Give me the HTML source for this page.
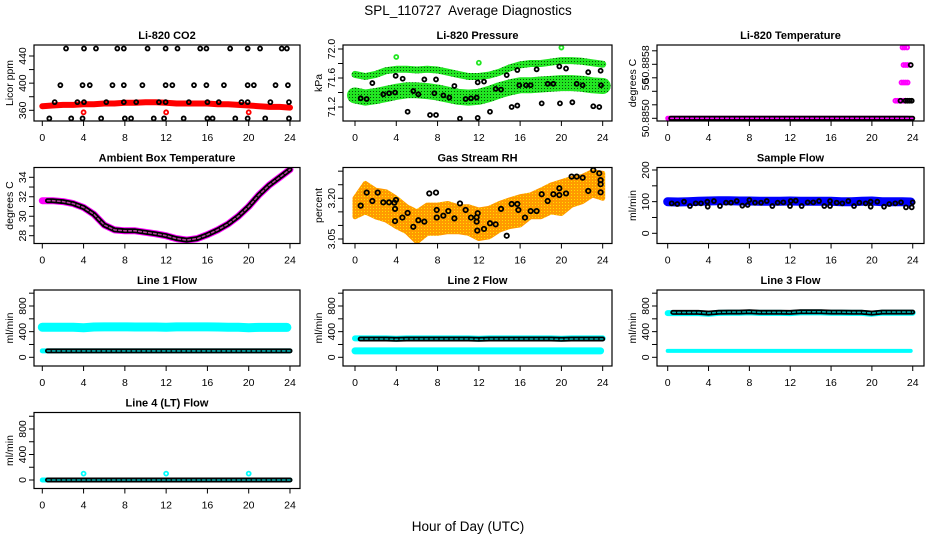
<!DOCTYPE html>
<html><head><meta charset="utf-8"><title>SPL_110727 Average Diagnostics</title>
<style>
html,body{margin:0;padding:0;background:#fff;}
svg{display:block;font-family:"Liberation Sans",Arial,sans-serif;}
</style></head>
<body>
<svg id="chart" width="936" height="540" viewBox="0 0 936 540" xmlns="http://www.w3.org/2000/svg">
<defs>
<pattern id="rhpat" width="3" height="3" patternUnits="userSpaceOnUse"><rect width="3" height="3" fill="#ff9a00"/><rect x="1" y="1" width="1" height="1" fill="#ffe000"/></pattern>
<pattern id="prpat" width="3" height="3" patternUnits="userSpaceOnUse"><rect width="3" height="3" fill="#22e622"/><rect x="1" y="1" width="1" height="1" fill="#0a500a"/></pattern>
</defs>
<text x="468" y="15" text-anchor="middle" font-size="13.5">SPL_110727&#160; Average Diagnostics</text>
<text x="468" y="531" text-anchor="middle" font-size="13.5">Hour of Day (UTC)</text>
</svg>
<script>
// ---------------- data ----------------
const HOURS=[0,1,2,3,4,5,6,7,8,9,10,11,12,13,14,15,16,17,18,19,20,21,22,23,24];
const XTICKS=[0,4,8,12,16,20,24];

// Li-820 CO2
const co2Band=[366,367,368,368,369,369,370,370,371,371,372,372,371,370,370,370,370,369,369,368,367,366,365,365,364];
const co2BlackT=[2.3,4.04,5.2,7.27,7.9,10.2,11.95,13.1,15.3,15.9,18.2,19.9,21.1,23.2,23.7,
 1.75,3.9,4.6,6.8,7.9,9.7,11.95,12.6,14.7,15.9,17.6,19.9,20.5,22.6,23.8,
 1.2,3.4,4.04,6.2,7.9,9.1,11.3,11.95,14.2,16,17.1,19.3,19.9,22.1,23.9,
 0.68,2.8,3.9,5.7,8.0,8.6,10.8,11.8,13.7,16,16.5,18.7,19.9,21.6,23.9];
const co2BlackV=[451,451,451,451,451,451,451,451,451,451,451,451,451,451,451,
 397,397,397,397,397,397,397,397,397,397,397,397,397,397,397,
 372,372,372,372,372,372,372,372,372,372,372,372,372,372,372,
 348,348,348,348,348,348,348,348,348,348,348,348,348,348,348];
const co2RedT=[4,12,20];
const co2RedV=[357,357,357];

// Li-820 Pressure
const presUpper=[71.65,71.62,71.65,71.70,71.72,71.72,71.71,71.72,71.71,71.68,71.65,71.62,71.62,71.64,71.68,71.74,71.78,71.80,71.80,71.82,71.84,71.84,71.83,71.81,71.79];
const presLower=[71.36,71.33,71.35,71.38,71.41,71.43,71.43,71.42,71.40,71.37,71.34,71.33,71.34,71.38,71.43,71.47,71.50,71.50,71.51,71.52,71.53,71.53,71.52,71.50,71.49];
const presBlackT=[0.55,1.13,1.68,2.74,3.3,3.88,3.94,4.62,5.1,5.65,6.14,6.72,7.27,7.69,7.85,7.85,8.56,9.14,9.63,10.17,10.72,11.24,11.79,11.89,11.89,12.5,13.08,13.63,14.15,14.7,15.18,15.73,15.73,15.92,16.57,17.02,17.6,18.09,18.67,19.22,19.8,19.86,20.45,21.06,21.48,22.06,22.6,23.09,23.67,23.8,23.84];
const presBlackV=[71.32,71.31,71.53,71.375,71.39,71.40,71.63,71.59,71.135,71.42,71.375,71.58,71.09,71.39,71.58,71.09,71.36,71.33,71.49,71.04,71.31,71.32,71.33,71.05,71.54,71.55,71.135,71.45,71.44,71.64,71.20,71.22,71.71,71.50,71.50,71.50,71.72,71.25,71.52,71.52,71.76,71.25,71.73,71.265,71.52,71.50,71.68,71.21,71.20,71.70,71.50];
const presGreenT=[4.0,12.0,20.0];
const presGreenV=[71.89,71.81,72.02];

// Li-820 Temperature
const tempBase=[50.8850,50.8850,50.8850,50.8850,50.8850,50.8850,50.8850,50.8850,50.8850,50.8850,50.8850,50.8850,50.8850,50.8850,50.8850,50.8850,50.8850,50.8850,50.8850,50.8850,50.8850,50.8850,50.8850,50.8850,50.8850];
const tempMagT=[23.0,23.2,23.45,23.1,23.3,23.5,22.9,23.1,23.3,23.5,22.3,22.5,22.7,22.9,23.1,23.3];
const tempMagV=[50.88605,50.88605,50.88605,50.88579,50.88579,50.88579,50.88553,50.88553,50.88553,50.88553,50.88526,50.88526,50.88526,50.88526,50.88526,50.88526];
const tempBlackT=[23.8,22.8,23.3,23.5,23.7,23.9];
const tempBlackV=[50.88579,50.88526,50.88526,50.88526,50.88526,50.88526];

// Ambient box temperature
const ambTemp=[31.6,31.6,31.5,31.3,30.9,30.2,29.1,28.6,28.5,28.5,28.35,28.2,28.0,27.7,27.55,27.7,28.1,28.6,29.2,30.0,31.0,32.2,33.2,34.0,34.8];

// Gas stream RH
const rhHigh=[3.200,3.255,3.230,3.224,3.200,3.169,3.150,3.175,3.175,3.181,3.169,3.169,3.157,3.163,3.181,3.194,3.206,3.212,3.230,3.249,3.261,3.273,3.280,3.298,3.292];
const rhLow=[3.132,3.150,3.132,3.120,3.096,3.077,3.040,3.071,3.071,3.077,3.077,3.071,3.052,3.058,3.083,3.096,3.102,3.132,3.132,3.150,3.144,3.175,3.187,3.212,3.200];
const rhBlackT=[0.55,1.13,1.68,2.2,2.74,3.3,3.81,3.97,3.88,3.88,4.59,5.1,5.65,6.14,6.72,7.2,7.85,7.92,7.92,8.56,9.04,9.63,10.17,10.72,11.24,11.79,11.89,11.79,11.85,12.5,13.08,13.63,14.15,14.7,15.18,15.73,15.83,16.47,17.02,17.6,18.09,18.67,19.22,19.8,19.8,20.45,20.99,21.48,22.06,22.6,23.09,23.67,23.8,23.8,23.8];
const rhBlackV=[3.173,3.221,3.190,3.221,3.185,3.185,3.184,3.194,3.161,3.116,3.129,3.146,3.095,3.119,3.114,3.218,3.221,3.157,3.129,3.136,3.153,3.126,3.181,3.157,3.129,3.130,3.145,3.114,3.081,3.087,3.108,3.104,3.161,3.062,3.179,3.179,3.157,3.129,3.153,3.153,3.215,3.190,3.215,3.237,3.212,3.218,3.280,3.280,3.276,3.227,3.304,3.292,3.267,3.252,3.222];

// Sample flow
const sampleBand=[100,99,100,101,102,103,103,102,102,101,101,101,102,101,101,101,101,100,100,101,102,100,100,100,99];
const sampleBlackT=[0.39,0.94,1.6,2.18,2.74,3.26,3.88,3.92,4.53,5.12,5.71,6.2,6.76,7.31,7.83,8.0,8.55,9.14,9.7,10.25,10.77,11.33,11.98,12.05,12.54,13.12,13.71,14.26,14.82,15.34,15.9,15.9,16.55,17.1,17.69,18.25,18.77,19.39,19.88,19.88,20.53,21.19,21.7,22.29,22.85,23.34,23.9,23.99];
const sampleBlackV=[94.6,92.5,99.9,86.2,94.6,94.6,99.9,84.1,102,86.2,96.7,96.7,102,87.3,89.4,105.2,96.7,96.7,102,86.2,96.7,97.8,86.2,102,103,86.2,97.8,97.8,102,86.2,86.2,102,96.7,94.6,102,86.2,96.7,94.6,84.1,99.9,99.9,84.1,92.5,94.6,97.8,82,82,97.8];

// Line flows
const line1High=[470,468,468,468,462,472,474,474,474,472,472,472,468,474,474,474,474,472,470,468,462,466,466,466,466];
const line1Low=[100,100,100,100,100,100,100,100,100,100,100,100,100,100,100,100,100,100,100,100,100,100,100,100,100];
const line2High=[295,295,295,295,290,295,295,295,295,295,295,295,290,295,295,295,295,295,295,295,290,295,295,295,295];
const line2Low=[100,100,100,100,100,100,100,100,100,100,100,100,100,100,100,100,100,100,100,100,100,100,100,100,100];
const line3High=[690,690,690,690,680,692,695,695,700,692,692,692,690,700,700,700,695,695,692,692,680,695,695,695,695];
const line3Low=[100,100,100,100,100,100,100,100,100,100,100,100,100,100,100,100,100,100,100,100,100,100,100,100,100];
const line4Base=[0,0,0,0,0,0,0,0,0,0,0,0,0,0,0,0,0,0,0,0,0,0,0,0,0];
const line4OutT=[4,12,20];
const line4OutV=[100,100,100];

// ---------------- drawing ----------------
const NS='http://www.w3.org/2000/svg';
const svg=document.getElementById('chart');
const BOXL=[34,343,657], BOXR=[300,612,924];
const X0=[42.3,355,667.7], XS=[10.32,10.32,10.21];
const TOPS=[45,167.5,290,412.5], BOXH=76;

function mk(tag,attrs,parent,name,inter){
  const e=document.createElementNS(NS,tag);
  for(const k in attrs) e.setAttribute(k,attrs[k]);
  
  
  parent.appendChild(e);
  return e;
}

function makePanel(col,row,title,v1,p1,v2,p2,ticks,labels,ytitle,name){
  const L=BOXL[col],R=BOXR[col],T=TOPS[row],B=T+BOXH;
  const x0=X0[col],xs=XS[col];
  const X=t=>x0+t*xs;
  const Y=v=>p1+(v-v1)*(p2-p1)/(v2-v1);
  const g=mk('g',{},svg,name+'-panel',false);
  const data=mk('g',{},g,name+'-series',false);
  mk('rect',{x:L,y:T,width:R-L,height:BOXH,fill:'none',stroke:'#000','stroke-width':1.2},g,name+'-plot-box',false);
  const tt=mk('text',{x:(L+R)/2,y:T-6,'text-anchor':'middle','font-size':11,'font-weight':'bold'},g,name+'-title',false);
  tt.textContent=title;
  XTICKS.forEach(t=>{
    const x=X(t);
    mk('line',{x1:x,y1:B,x2:x,y2:B+5,stroke:'#000','stroke-width':1},g,name+'-x-tick',false);
    const tx=mk('text',{x:x,y:B+20,'text-anchor':'middle','font-size':10.5},g,name+'-x-tick-label',false);
    tx.textContent=String(t);
  });
  ticks.forEach(v=>{
    const y=Y(v);
    mk('line',{x1:L-5,y1:y,x2:L,y2:y,stroke:'#000','stroke-width':1},g,name+'-y-tick',false);
  });
  labels.forEach(lb=>{
    const y=Y(lb[0]);
    const ty=mk('text',{x:L-8,y:y,'text-anchor':'middle','font-size':10.5,transform:'rotate(-90 '+(L-8)+' '+y+')'},g,name+'-y-tick-label',false);
    ty.textContent=lb[1];
  });
  const yt=mk('text',{x:L-21,y:T+BOXH/2,'text-anchor':'middle','font-size':10.5,transform:'rotate(-90 '+(L-21)+' '+(T+BOXH/2)+')'},g,name+'-y-axis-title',false);
  yt.textContent=ytitle;
  const clip=mk('clipPath',{id:'clip-'+name},g,name+'-clip',false);
  mk('rect',{x:L,y:T,width:R-L,height:BOXH},clip,name+'-clip-rect',false);
  data.setAttribute('clip-path','url(#clip-'+name+')');
  return {X,Y,g:data};
}

function band(p,T,V,color,width,name,dash){
  const pts=T.map((t,i)=>p.X(t).toFixed(1)+','+p.Y(V[i]).toFixed(1)).join(' ');
  const a={points:pts,fill:'none',stroke:color,'stroke-width':width,'stroke-linejoin':'round','stroke-linecap':'round'};
  if(dash) a['stroke-dasharray']=dash;
  return mk('polyline',a,p.g,name,false);
}
function chain(p,T,V,inner,name){
  band(p,T,V,'#000',5,name,null);
  band(p,T,V,inner,1.6,name+'-inner','2.5 2.5');
}
function circles(p,T,V,color,r,sw,name){
  T.forEach((t,i)=>{
    mk('circle',{cx:p.X(t),cy:p.Y(V[i]),r:r,fill:'none',stroke:color,'stroke-width':sw},p.g,name,false);
  });
}
function area(p,T,hi,lo,fill,name){
  const top=T.map((t,i)=>p.X(t).toFixed(1)+','+p.Y(hi[i]).toFixed(1));
  const bot=T.map((t,i)=>p.X(t).toFixed(1)+','+p.Y(lo[i]).toFixed(1)).reverse();
  mk('polygon',{points:top.concat(bot).join(' '),fill:fill,stroke:fill,'stroke-width':5,'stroke-linejoin':'round'},p.g,name,false);
}
function sliceT(a,from){return a.map((t)=>Math.max(t,from));}

// Panel 1: CO2
const pCO2=makePanel(0,0,'Li-820 CO2',360,110.3,440,56,[360,380,400,420,440],[[360,'360'],[400,'400'],[440,'440']],'Licor ppm','co2');
band(pCO2,HOURS,co2Band,'#ff0000',6,'co2-red-band',null);
circles(pCO2,co2BlackT,co2BlackV,'#000',2,1.8,'co2-black-point');
circles(pCO2,co2RedT,co2RedV,'#ff0000',2,1.8,'co2-red-point');

// Panel 2: Pressure
const pPres=makePanel(1,0,'Li-820 Pressure',71.2,107,72.0,49,[71.2,71.4,71.6,71.8,72.0],[[71.2,'71.2'],[71.6,'71.6'],[72.0,'72.0']],'kPa','pressure');
band(pPres,HOURS,presUpper,'url(#prpat)',7,'pressure-upper-band',null);
band(pPres,HOURS,presLower,'url(#prpat)',16,'pressure-lower-band',null);
circles(pPres,presBlackT,presBlackV,'#000',2,1.8,'pressure-black-point');
circles(pPres,presGreenT,presGreenV,'#22e622',2,1.8,'pressure-green-point');

// Panel 3: Li-820 Temperature
const pTemp=makePanel(2,0,'Li-820 Temperature',50.8850,118.3,50.8858,64.3,[50.8850,50.8852,50.8854,50.8856,50.8858,50.8860],[[50.8850,'50.8850'],[50.8855,'50'],[50.8858,'50.8858']],'degrees C','li820-temp');
band(pTemp,HOURS.slice(0,24).concat([23.5]),tempBase,'#ff00ff',5,'temp-magenta-band',null);
chain(pTemp,sliceT(HOURS,0.3),tempBase,'#ff00ff','temp-black-chain');
circles(pTemp,tempMagT,tempMagV,'#ff00ff',2,1.8,'temp-magenta-point');
circles(pTemp,tempBlackT,tempBlackV,'#000',2,1.8,'temp-black-point');

// Panel 4: Ambient
const pAmb=makePanel(0,1,'Ambient Box Temperature',28,235.7,34,177.3,[28,29,30,31,32,33,34],[[28,'28'],[30,'30'],[32,'32'],[34,'34']],'degrees C','ambient');
band(pAmb,HOURS,ambTemp,'#ff00ff',7,'ambient-magenta-band',null);
chain(pAmb,sliceT(HOURS,0.5),ambTemp,'#b0409a','ambient-black-chain');

// Panel 5: RH
const pRH=makePanel(1,1,'Gas Stream RH',3.05,239,3.20,198.3,[3.05,3.10,3.15,3.20,3.25,3.30],[[3.05,'3.05'],[3.20,'3.20']],'percent','rh');
area(pRH,HOURS,rhHigh,rhLow,'url(#rhpat)','rh-orange-band');
circles(pRH,rhBlackT,rhBlackV,'#000',2.2,1.8,'rh-black-point');

// Panel 6: Sample flow
const pSam=makePanel(2,1,'Sample Flow',0,233.3,200,170,[0,50,100,150,200],[[0,'0'],[100,'100'],[200,'200']],'ml/min','sample-flow');
band(pSam,HOURS.slice(0,24).concat([23.8]),sampleBand,'#0000ff',9,'sample-blue-band',null);
circles(pSam,sampleBlackT,sampleBlackV,'#000',2,1.8,'sample-black-point');

const FT=[0,200,400,600,800,1000], FL=[[0,'0'],[400,'400'],[800,'800']];
// Panel 7: Line 1
const pL1=makePanel(0,2,'Line 1 Flow',0,357.3,800,306,FT,FL,'ml/min','line1');
band(pL1,HOURS.slice(0,24).concat([23.7]),line1High,'#00ffff',9,'line1-cyan-high',null);
band(pL1,HOURS,line1Low,'#00ffff',5,'line1-cyan-low',null);
chain(pL1,sliceT(HOURS,0.5),line1Low,'#00b0b0','line1-black-chain');

// Panel 8: Line 2
const pL2=makePanel(1,2,'Line 2 Flow',0,357.3,800,306,FT,FL,'ml/min','line2');
band(pL2,HOURS.slice(0,24).concat([23.8]),line2Low,'#00ffff',7,'line2-cyan-low',null);
band(pL2,HOURS,line2High,'#00ffff',6,'line2-cyan-high',null);
chain(pL2,sliceT(HOURS,0.5),line2High.map(v=>v-10),'#00b0b0','line2-black-chain');

// Panel 9: Line 3
const pL3=makePanel(2,2,'Line 3 Flow',0,357.3,800,306,FT,FL,'ml/min','line3');
band(pL3,HOURS.slice(0,24).concat([23.8]),line3Low,'#00ffff',4,'line3-cyan-low',null);
band(pL3,HOURS,line3High,'#00ffff',6,'line3-cyan-high',null);
chain(pL3,sliceT(HOURS,0.5),line3High.map(v=>v+10),'#00b0b0','line3-black-chain');

// Panel 10: Line 4
const pL4=makePanel(0,3,'Line 4 (LT) Flow',0,480,800,429,FT,FL,'ml/min','line4');
band(pL4,HOURS,line4Base,'#00ffff',5,'line4-cyan-band',null);
chain(pL4,sliceT(HOURS,0.5),line4Base,'#00b0b0','line4-black-chain');
circles(pL4,line4OutT,line4OutV,'#00ffff',2,1.8,'line4-cyan-point');
</script>
</body></html>
